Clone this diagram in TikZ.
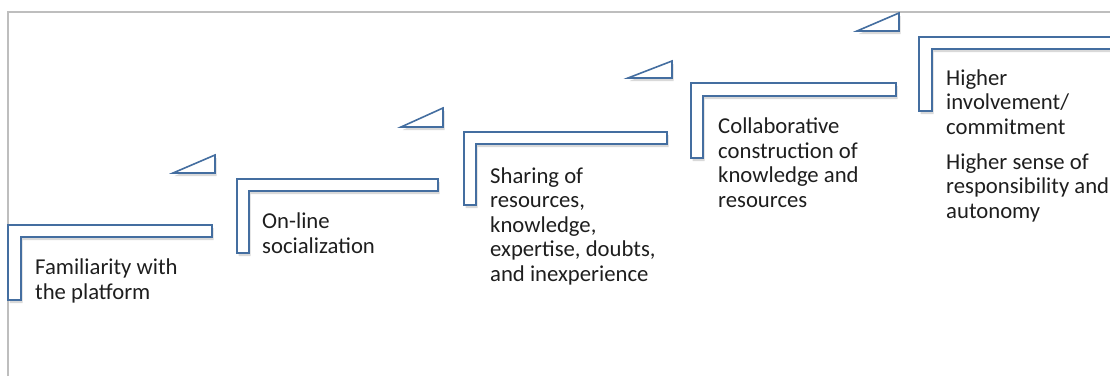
\documentclass[tikz,border=0pt]{standalone}
\usepackage{fontspec}
\setmainfont{Carlito}
\usetikzlibrary{shadows}

\definecolor{stepblue}{RGB}{68,110,160}
\definecolor{framegray}{RGB}{190,190,190}
\definecolor{textgray}{RGB}{30,30,30}

\tikzset{
  stepbar/.style={draw=stepblue, line width=1.6pt, fill=white, line join=miter,
    drop shadow={opacity=0.3, fill=black!50, shadow xshift=1.5pt, shadow yshift=-3pt}},
  stepflag/.style={stepbar},
  % anchor sits on the baseline of the last line
  steptext/.style={anchor=base west, inner sep=0pt, align=left, text=textgray,
    font=\fontsize{22.7}{24.5}\selectfont}
}

\begin{document}
\begin{tikzpicture}[x=1pt, y=-1pt]
\clip (0,0) rectangle (1110,376);
\useasboundingbox (0,0) rectangle (1110,376);

% frame
\draw[framegray, line width=1.6pt] (8,376) -- (8,12) -- (1112,12);

% step 1
\draw[stepbar] (8,225) -- (212,225) -- (212,237) -- (21,237) -- (21,300) -- (8,300) -- cycle;
\node[steptext] (fam) at (35,299) {Familiarity with\\the platform};

% step 2
\draw[stepflag] (173,173) -- (215,155) -- (215,173) -- cycle;
\draw[stepbar] (237,179) -- (438,179) -- (438,191) -- (249,191) -- (249,253) -- (237,253) -- cycle;
\node[steptext] (soc) at (262,253) {On-line\\socialization};

% step 3
\draw[stepflag] (401,127) -- (443,108) -- (443,127) -- cycle;
\draw[stepbar] (464,132) -- (667,132) -- (667,144) -- (476,144) -- (476,205) -- (464,205) -- cycle;
\node[steptext] (shr) at (490,281) {Sharing of\\resources,\\knowledge,\\expertise, doubts,\\and inexperience};

% step 4
\draw[stepflag] (628,78) -- (672,61) -- (672,78) -- cycle;
\draw[stepbar] (691,83) -- (896,83) -- (896,96) -- (703,96) -- (703,158) -- (691,158) -- cycle;
\node[steptext] (col) at (718,207) {Collaborative\\construction of\\knowledge and\\resources};

% step 5
\draw[stepflag] (857,31) -- (899,13) -- (899,31) -- cycle;
\draw[stepbar] (919,37) -- (1130,37) -- (1130,49) -- (932,49) -- (932,111) -- (919,111) -- cycle;
\node[steptext] (inv) at (946,134) {Higher\\involvement/\\commitment};
\node[steptext] (rsp) at (946,218) {Higher sense of\\responsibility and\\autonomy};

\end{tikzpicture}
\end{document}
